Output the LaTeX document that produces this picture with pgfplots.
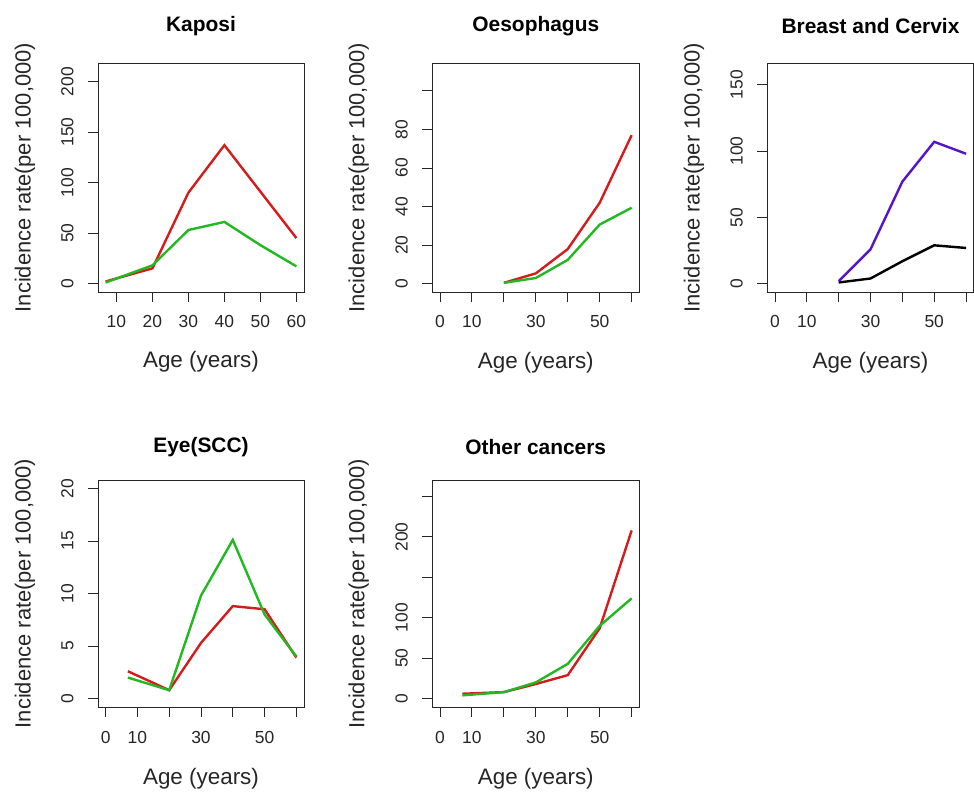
\documentclass[border=0pt]{standalone}
\usepackage{pgfplots}
\pgfplotsset{compat=1.18}
\usepackage{fontspec}
\setmainfont{Liberation Sans}
\definecolor{rred}{HTML}{D41C1C}
\definecolor{rgreen}{HTML}{22B822}
\definecolor{rpurple}{HTML}{5514CC}
\pgfplotsset{
  rbase/.style={
    scale only axis,
    axis line style={line width=0.9bp, black!85},
    tick align=outside,
    xtick pos=bottom, ytick pos=left,
    major tick length=10bp,
    tick style={line width=0.9bp, black!85},
    /pgf/number format/assume math mode=true,
    /pgf/number format/1000 sep={},
    tick label style={font=\fontsize{17.5}{20}\selectfont, black!85},
    yticklabel style={rotate=90, anchor=south},
    xticklabel shift=10bp,
    yticklabel shift=11bp,
    title style={at={(axis description cs:0.5,1.135)}, anchor=center, font=\fontsize{21}{25}\bfseries},
    xlabel style={at={(axis description cs:0.5,-0.306)}, anchor=center, font=\fontsize{22.5}{26}\selectfont, black!85},
    ylabel style={at={(axis description cs:-0.355,0.5)}, anchor=center, font=\fontsize{22}{26}\selectfont, black!85},
    xlabel={Age (years)},
    ylabel={Incidence rate(per 100,000)},
    every axis plot/.append style={line width=2.4bp},
  },
  wide/.style={xmin=-2.4, xmax=62.4, xtick={0,10,20,30,40,50,60}, xticklabels={0,10,,30,,50,}},
  lower/.style={title style={at={(axis description cs:0.5,1.12)}}, xlabel style={at={(axis description cs:0.5,-0.318)}}, xticklabel shift=11bp},
}
\begin{document}
\begin{tikzpicture}
\useasboundingbox (0bp,0bp) rectangle (974bp,796bp);
% Kaposi
\begin{axis}[rbase, at={(98bp,504bp)}, anchor=south west, width=206bp, height=229bp,
  title={Kaposi}, xmin=4.88, xmax=62.12, xtick={10,20,30,40,50,60},
  ymin=-8.4, ymax=218.4, ytick={0,50,100,150,200}]
\addplot[rred] coordinates {(7,2) (20,15) (30,90) (40,137) (50,91) (60,45)};
\addplot[rgreen] coordinates {(7,1) (20,18) (30,53) (40,61) (50,38) (60,17)};
\end{axis}
% Oesophagus
\begin{axis}[rbase, wide, at={(432.3bp,503.7bp)}, anchor=south west, width=207bp, height=229.3bp,
  title={Oesophagus}, ymin=-4.4, ymax=114.4, ytick={0,20,40,60,80,100}, yticklabels={0,20,40,60,80,}]
\addplot[rred] coordinates {(20,0.5) (30,5.4) (40,18) (50,42) (60,77)};
\addplot[rgreen] coordinates {(20,0.5) (30,3) (40,12.4) (50,30.7) (60,39.4)};
\end{axis}
% Breast and Cervix
\begin{axis}[rbase, wide, at={(767.3bp,503.7bp)}, anchor=south west, width=206.4bp, height=229.3bp,
  title={Breast and Cervix}, ymin=-6.4, ymax=166.4, ytick={0,50,100,150}]
\addplot[rpurple] coordinates {(20,2) (30,26) (40,77) (50,107) (60,98)};
\addplot[black] coordinates {(20,1) (30,4) (40,17) (50,29) (60,27)};
\end{axis}
% Eye(SCC)
\begin{axis}[rbase, wide, lower, at={(98bp,89bp)}, anchor=south west, width=206bp, height=227bp,
  title={Eye(SCC)}, ymin=-0.8, ymax=20.8, ytick={0,5,10,15,20}]
\addplot[rred] coordinates {(7,2.6) (20,0.8) (30,5.3) (40,8.8) (50,8.5) (60,3.9)};
\addplot[rgreen] coordinates {(7,2.0) (20,0.8) (30,9.8) (40,15.1) (50,8.0) (60,4.0)};
\end{axis}
% Other cancers
\begin{axis}[rbase, wide, lower, at={(432.3bp,89bp)}, anchor=south west, width=207bp, height=227bp,
  title={Other cancers}, ymin=-10.4, ymax=270.4, ytick={0,50,100,150,200,250}, yticklabels={0,50,100,,200,}]
\addplot[rred] coordinates {(7,6) (20,8) (30,18) (40,29) (50,87) (60,208)};
\addplot[rgreen] coordinates {(7,4) (20,8) (30,20) (40,43) (50,90) (60,124)};
\end{axis}
\end{tikzpicture}
\end{document}
